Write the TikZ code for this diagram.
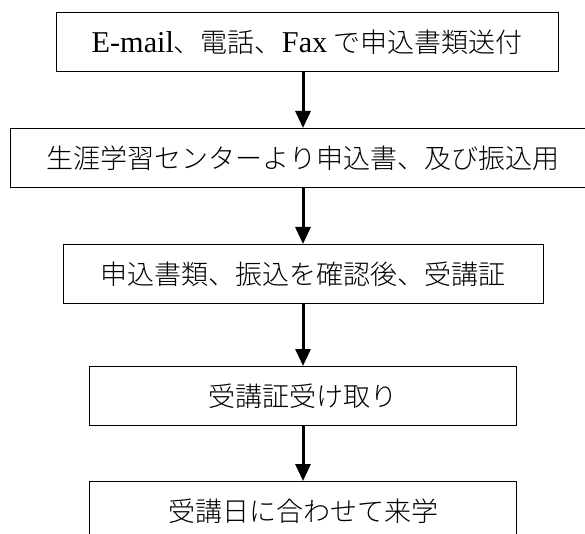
\documentclass[tikz,border=0pt]{standalone}
\usepackage{fontspec}
\setmainfont{Liberation Serif}[Scale=1.12]
\newfontfamily\jfont{Noto Sans CJK JP}[UprightFont={* Light}]
\usetikzlibrary{positioning, arrows.meta}

\begin{document}
\begin{tikzpicture}[->, >={Triangle[width=15pt,length=17pt]}, line width=3pt, node distance=56pt,
  paso/.style={draw, line width=1pt, minimum height=59pt, inner sep=0pt,
    font=\fontsize{27}{30}\selectfont\jfont}]
\useasboundingbox (0,0) rectangle (585pt,-534pt);
% Pasos
\node[paso, minimum width=502pt] (envio) at (307pt,-42pt) {{\rmfamily E-mail}、電話、{\rmfamily Fax} で申込書類送付};
\node[paso, minimum width=586pt, below=of envio, xshift=-4pt] (centro) {生涯学習センターより申込書、及び振込用};
\node[paso, minimum width=480pt, below=of centro] (revision) {申込書類、振込を確認後、受講証};
\node[paso, minimum width=427pt, below=62pt of revision] (recibo) {受講証受け取り};
\node[paso, minimum width=427pt, below=55pt of recibo] (visita) {受講日に合わせて来学};

% Flechas
\draw (envio.south -| centro) -- (centro);
\draw (centro) -- (revision);
\draw (revision) -- (recibo);
\draw (recibo) -- (visita);
\end{tikzpicture}
\end{document}
